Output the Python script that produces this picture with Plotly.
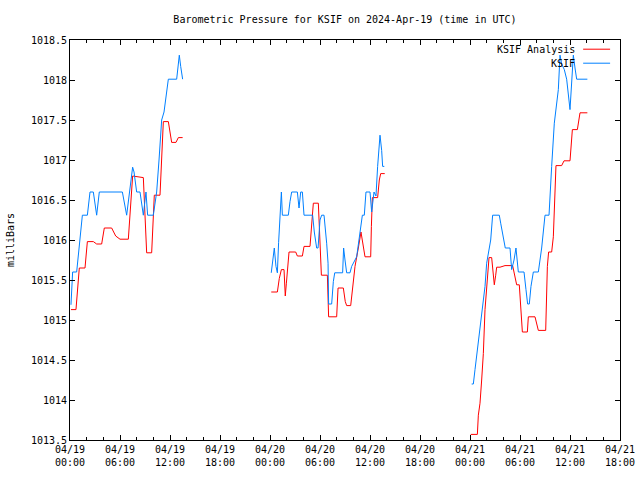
import plotly.graph_objects as go
import pandas as pd

TITLE = "Barometric Pressure for KSIF on 2024-Apr-19 (time in UTC)"
Y_LABEL = "milliBars"
SERIES_NAMES = ["KSIF Analysis", "KSIF"]

# ---- KSIF observations (three separate stretches) ----
ksif_t1 = ["00:07", "00:19", "00:48", "01:17", "01:29", "02:05", "02:24", "02:48", "03:12", "03:31",
           "06:17", "06:48", "07:07", "07:31", "07:41", "08:00", "08:24", "08:48", "09:07", "09:19",
           "10:00", "10:24", "10:41", "11:00", "11:17", "11:48", "12:48", "13:07", "13:17", "13:31"]
ksif_v1 = [1015.19, 1015.60, 1015.60, 1016.08, 1016.31, 1016.31, 1016.60, 1016.60, 1016.31, 1016.60,
           1016.60, 1016.31, 1016.60, 1016.91, 1016.85, 1016.60, 1016.60, 1016.31, 1016.60, 1016.31,
           1016.31, 1016.60, 1017.00, 1017.50, 1017.60, 1018.01, 1018.01, 1018.31, 1018.17, 1018.01]

ksif_t2 = ["00:09", "00:19", "00:31", "00:43", "00:53", "01:02", "01:12", "01:22", "01:29", "02:12",
           "02:24", "02:36", "03:17", "03:29", "03:41", "03:53", "04:05", "05:07", "05:19", "05:36",
           "05:46", "06:00", "06:12", "06:29", "06:48", "06:58", "07:02", "07:24", "07:36", "07:46",
           "08:43", "08:50", "09:00", "09:12", "09:36", "09:48", "10:24", "10:48", "11:05", "11:19",
           "11:31", "12:00", "12:12", "12:29", "12:43", "12:55", "13:12", "13:24", "13:31", "13:43"]
ksif_v2 = [1015.59, 1015.75, 1015.90, 1015.67, 1015.59, 1015.97, 1016.25, 1016.60, 1016.31, 1016.31,
           1016.48, 1016.60, 1016.60, 1016.40, 1016.60, 1016.60, 1016.31, 1016.31, 1016.10, 1015.90,
           1015.90, 1016.25, 1016.31, 1016.31, 1015.96, 1015.71, 1015.20, 1015.20, 1015.48, 1015.59,
           1015.59, 1015.90, 1015.75, 1015.59, 1015.59, 1015.67, 1015.79, 1016.06, 1016.31, 1016.31,
           1016.60, 1016.60, 1016.35, 1016.60, 1016.55, 1016.92, 1017.31, 1017.12, 1016.92, 1016.92]

ksif_t3 = ["00:12", "00:24", "00:36", "00:53", "01:12", "01:31", "01:48", "02:00", "02:19", "02:29",
           "02:43", "03:31", "03:41", "04:00", "04:14", "04:48", "05:00", "05:17", "05:31", "05:48",
           "06:29", "06:43", "06:55", "07:07", "07:19", "07:36", "08:12", "08:36", "09:00", "09:29",
           "09:36", "09:48", "10:07", "10:24", "10:36", "10:48", "11:00", "11:19", "11:36", "12:00",
           "12:10", "12:24", "12:36", "12:48", "14:05"]
ksif_v3 = [1014.20, 1014.20, 1014.38, 1014.63, 1014.88, 1015.17, 1015.42, 1015.71, 1015.90, 1016.00,
           1016.31, 1016.31, 1016.21, 1016.00, 1015.90, 1015.90, 1015.63, 1015.75, 1015.90, 1015.60,
           1015.60, 1015.38, 1015.20, 1015.20, 1015.42, 1015.60, 1015.60, 1015.90, 1016.31, 1016.31,
           1016.58, 1016.92, 1017.46, 1017.67, 1017.88, 1018.31, 1018.20, 1018.13, 1018.01, 1017.63,
           1017.92, 1018.31, 1018.15, 1018.01, 1018.01]

# ---- KSIF Analysis ----
ana_t1 = ["00:07", "00:43", "01:07", "01:48", "02:05", "02:48", "03:12", "03:48", "04:07", "05:00",
          "05:29", "06:00", "07:00", "07:12", "07:31", "08:48", "09:07", "09:12", "09:48", "10:07",
          "10:48", "11:12", "11:48", "12:12", "12:43", "13:00", "13:31"]
ana_v1 = [1015.13, 1015.13, 1015.65, 1015.65, 1015.98, 1015.98, 1015.95, 1015.95, 1016.15, 1016.15,
          1016.05, 1016.01, 1016.01, 1016.31, 1016.80, 1016.78, 1016.00, 1015.84, 1015.84, 1016.56,
          1016.56, 1017.48, 1017.48, 1017.22, 1017.22, 1017.28, 1017.28]

ana_t2 = ["00:09", "00:53", "01:07", "01:22", "01:41", "01:50", "01:58", "02:10", "02:17", "03:05",
          "03:17", "03:53", "04:05", "04:48", "05:00", "05:12", "05:48", "05:55", "06:10", "06:53",
          "07:02", "08:00", "08:10", "08:48", "09:02", "09:12", "09:41", "09:55", "10:12", "10:36",
          "10:48", "10:55", "11:24", "12:05", "12:10", "12:17", "12:55", "13:07", "13:17", "13:46"]
ana_v2 = [1015.35, 1015.35, 1015.52, 1015.63, 1015.63, 1015.30, 1015.46, 1015.75, 1015.85, 1015.85,
          1015.80, 1015.80, 1015.92, 1015.92, 1016.17, 1016.46, 1016.46, 1016.13, 1015.56, 1015.56,
          1015.04, 1015.04, 1015.40, 1015.40, 1015.23, 1015.18, 1015.18, 1015.40, 1015.67, 1015.90,
          1016.06, 1016.10, 1015.79, 1015.79, 1016.17, 1016.53, 1016.53, 1016.75, 1016.83, 1016.83]

ana_t3 = ["00:05", "00:53", "01:00", "01:12", "01:24", "01:36", "01:48", "02:05", "02:17", "02:36",
          "02:48", "02:55", "03:05", "03:12", "03:36", "04:12", "05:07", "05:24", "05:36", "05:55",
          "06:05", "06:17", "06:53", "07:00", "07:48", "08:12", "09:05", "09:17", "09:26", "09:48",
          "10:00", "10:19", "11:00", "11:17", "12:00", "12:17", "12:53", "13:12", "14:05"]
ana_v3 = [1013.57, 1013.57, 1013.81, 1013.96, 1014.25, 1014.58, 1015.13, 1015.58, 1015.78, 1015.78,
          1015.54, 1015.44, 1015.56, 1015.66, 1015.66, 1015.68, 1015.68, 1015.54, 1015.44, 1015.44,
          1015.17, 1014.85, 1014.85, 1015.04, 1015.04, 1014.87, 1014.87, 1015.67, 1015.85, 1015.85,
          1016.04, 1016.93, 1016.93, 1016.99, 1016.99, 1017.38, 1017.38, 1017.59, 1017.59]

DAYS = ["2024-04-19", "2024-04-20", "2024-04-21"]
X_START = "2024-04-19 00:00"
X_END = "2024-04-21 18:00"
Y_TICKS = [1013.5, 1014, 1014.5, 1015, 1015.5, 1016, 1016.5, 1017, 1017.5, 1018, 1018.5]
Y_TICK_TEXT = ["1013.5", "1014", "1014.5", "1015", "1015.5", "1016", "1016.5", "1017", "1017.5", "1018", "1018.5"]


def join(segs):
    xs, ys = [], []
    for day, (ts, vs) in zip(DAYS, segs):
        xs += [f"{day} {t}" for t in ts] + [None]
        ys += list(vs) + [None]
    return xs, ys


ax, ay = join([(ana_t1, ana_v1), (ana_t2, ana_v2), (ana_t3, ana_v3)])
kx, ky = join([(ksif_t1, ksif_v1), (ksif_t2, ksif_v2), (ksif_t3, ksif_v3)])

RED = "#ff0000"
BLUE = "#0080ff"
FONT = "DejaVu Sans Mono"

fig = go.Figure()
fig.add_trace(go.Scatter(x=ax, y=ay, mode="lines", name=SERIES_NAMES[0],
                         line=dict(color=RED, width=1), connectgaps=False))
fig.add_trace(go.Scatter(x=kx, y=ky, mode="lines", name=SERIES_NAMES[1],
                         line=dict(color=BLUE, width=1), connectgaps=False))

tickvals = pd.date_range(X_START, X_END, freq="6h")
ticktext = [t.strftime("%m/%d<br>%H:%M") for t in tickvals]

fig.update_layout(
    width=640, height=480,
    margin=dict(l=70, r=20, t=40, b=40, autoexpand=False),
    paper_bgcolor="white", plot_bgcolor="white",
    showlegend=False,
    font=dict(family=FONT, size=10, color="black"),
    title=dict(text=TITLE, x=0.539, xanchor="center", y=0.96, yanchor="middle",
               font=dict(family=FONT, size=10, color="black")),
    xaxis=dict(type="date", range=[X_START, X_END], tickvals=tickvals, ticktext=ticktext,
               ticks="inside", ticklen=5, tickcolor="black", showgrid=False, zeroline=False,
               showline=True, linecolor="black", linewidth=1, mirror="ticks", automargin=False,
               minor=dict(dtick=2 * 3600 * 1000, ticks="inside", ticklen=3, tickcolor="black", showgrid=False),
               tickfont=dict(family=FONT, size=10)),
    yaxis=dict(range=[1013.5, 1018.5], tickvals=Y_TICKS, ticktext=Y_TICK_TEXT,
               ticks="inside", ticklen=5, tickcolor="black", showgrid=False, zeroline=False,
               showline=True, linecolor="black", linewidth=1, mirror="ticks", automargin=False,
               tickfont=dict(family=FONT, size=10)),
)

# y-axis label
fig.add_annotation(xref="paper", yref="paper", x=-0.109, y=0.5, text=Y_LABEL, textangle=-90,
                   showarrow=False, xanchor="center", yanchor="middle",
                   font=dict(family=FONT, size=10, color="black"))

# gnuplot-style key: text right-aligned, line sample to the right
for i, (name, col) in enumerate(zip(SERIES_NAMES, [RED, BLUE])):
    yy = 0.977 - i * 0.035
    fig.add_annotation(xref="paper", yref="paper", x=0.921, y=yy, text=name, showarrow=False,
                       xanchor="right", yanchor="middle", font=dict(family=FONT, size=10, color="black"))
    fig.add_shape(type="line", xref="paper", yref="paper", x0=0.933, x1=0.982, y0=yy, y1=yy,
                  line=dict(color=col, width=1))

fig.write_html("out.html", config={"displayModeBar": False},
               post_script="document.body.style.margin='0';")
